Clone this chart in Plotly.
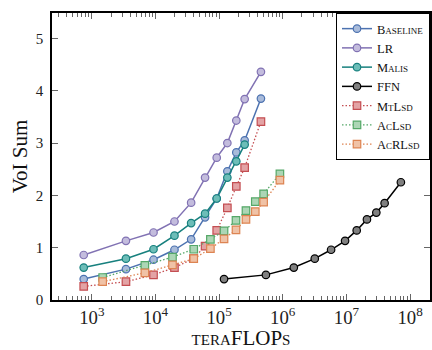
import plotly.graph_objects as go

# ---- data ----
base_x = [745, 3435, 9310, 19870, 36300, 60100, 91600, 134600, 186200, 251700, 453600]
baseline_y = [0.40, 0.59, 0.77, 0.96, 1.16, 1.58, 1.94, 2.46, 2.82, 3.05, 3.85]
lr_y = [0.86, 1.13, 1.29, 1.50, 1.86, 2.34, 2.72, 3.00, 3.43, 3.84, 4.36]
malis_x = [745, 3435, 9310, 19870, 36300, 60100, 91600, 134600, 186200, 251700]
malis_y = [0.62, 0.79, 0.97, 1.23, 1.47, 1.65, 1.94, 2.34, 2.65, 2.97]
ffn_x = [119400, 543000, 1.49e6, 3.18e6, 5.74e6, 9.52e6, 1.45e7, 2.10e7, 2.95e7, 3.98e7, 7.17e7]
ffn_y = [0.40, 0.48, 0.62, 0.79, 0.96, 1.13, 1.33, 1.54, 1.67, 1.85, 2.25]
mtlsd_x = [745, 3435, 9310, 19870, 39450, 60100, 91600, 134600, 186200, 251700, 453600]
mtlsd_y = [0.26, 0.35, 0.48, 0.62, 0.79, 1.03, 1.33, 1.76, 2.17, 2.53, 3.41]
ac_x = [1479, 6810, 18490, 39900, 72900, 119400, 184000, 264000, 370000, 500000, 901000]
aclsd_y = [0.43, 0.66, 0.82, 0.97, 1.16, 1.32, 1.52, 1.71, 1.88, 2.03, 2.41]
acrlsd_y = [0.35, 0.52, 0.67, 0.79, 0.98, 1.17, 1.34, 1.54, 1.69, 1.87, 2.29]

names = ["Baseline", "LR", "Malis", "FFN", "MtLsd", "AcLsd", "AcRLsd"]
xs = [base_x, base_x, malis_x, ffn_x, mtlsd_x, ac_x, ac_x]
ys = [baseline_y, lr_y, malis_y, ffn_y, mtlsd_y, aclsd_y, acrlsd_y]
line_cols = ["#4C72B0", "#8172B3", "#17807E", "#000000", "#C44E52", "#55A868", "#DD8452"]
fill_cols = ["#A9BBDA", "#C3BCDD", "#6DBDB8", "#808080", "#E3A3A5", "#ACD6B5", "#F0C2A6"]
symbols = ["circle", "circle", "circle", "circle", "square", "square", "square"]
dashes = ["solid", "solid", "solid", "solid", "1.5px,2px", "1.5px,2px", "1.5px,2px"]

fig = go.Figure()
for n, x, y, lc, fc, s, d in zip(names, xs, ys, line_cols, fill_cols, symbols, dashes):
    fig.add_trace(go.Scatter(
        x=x, y=y, name=n, mode="lines+markers",
        line=dict(color=lc, width=1.5 if d == "solid" else 1.3, dash=d),
        marker=dict(symbol=s, size=7.5, color=fc, line=dict(color=lc, width=1.2)),
    ))

font_family = "Liberation Serif"
fig.update_layout(
    width=432, height=350,
    margin=dict(l=52, r=0, t=13, b=46),
    paper_bgcolor="white", plot_bgcolor="white",
    font=dict(family=font_family, size=15, color="#222"),
    showlegend=True,
    legend=dict(
        x=1, xanchor="right", y=1, yanchor="top",
        bgcolor="white", bordercolor="black", borderwidth=1,
        font=dict(family=font_family, size=12.5, color="#111", variant="small-caps"),
        tracegroupgap=0, itemwidth=30,
    ),
)
fig.update_xaxes(
    type="log", range=[2.374, 8.313],
    showline=True, linecolor="black", linewidth=1.5, mirror="ticks",
    ticks="inside", ticklen=6, tickcolor="#666", tickwidth=1,
    dtick=1, exponentformat="power", showexponent="all",
    minor=dict(ticks="inside", ticklen=4, tickcolor="#666", dtick="D1", showgrid=False),
    showgrid=False, zeroline=False,
    tickfont=dict(family=font_family, size=15, color="#222"),
    title=dict(text="teraFLOPs", font=dict(family=font_family, size=21, color="#111", variant="small-caps"), standoff=8),
)
fig.update_yaxes(
    range=[0, 5.485],
    showline=True, linecolor="black", linewidth=1.5, mirror="ticks",
    ticks="inside", ticklen=6, tickcolor="#666", tickwidth=1,
    tickvals=[0, 1, 2, 3, 4, 5],
    showgrid=False, zeroline=False,
    ticklabelstandoff=4,
    tickfont=dict(family=font_family, size=15, color="#222"),
    title=dict(text="VoI Sum", font=dict(family=font_family, size=21, color="#111"), standoff=2),
)

fig.write_html("out.html")
